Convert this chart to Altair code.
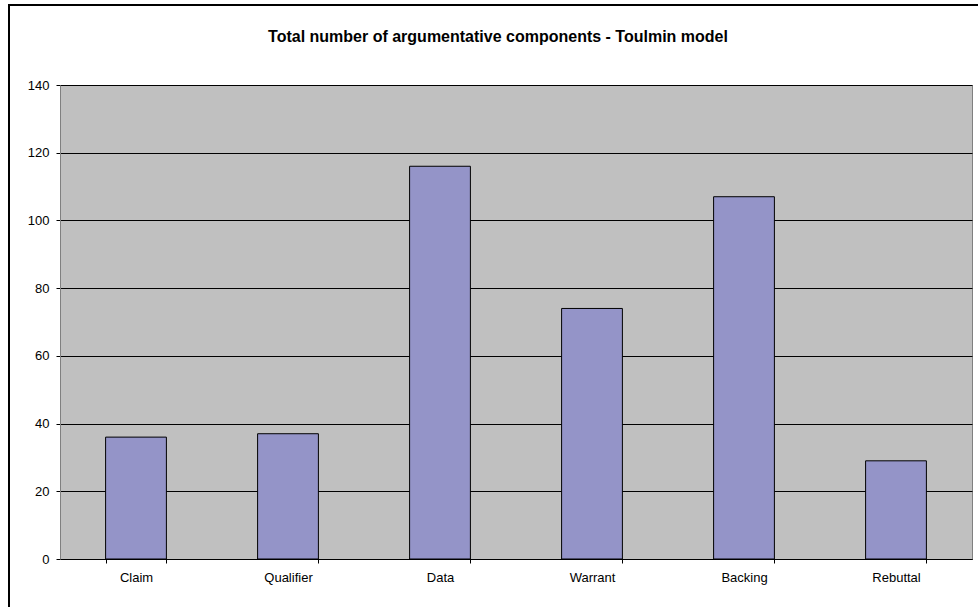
import altair as alt
import pandas as pd

# Counts of each Toulmin component
components = ["Claim", "Qualifier", "Data", "Warrant", "Backing", "Rebuttal"]
counts = [36, 37, 116, 74, 107, 29]
chart_title = "Total number of argumentative components - Toulmin model"

df = pd.DataFrame({"component": components, "count": counts})

FONT = "Liberation Sans"

bars = alt.Chart(df).mark_bar(
    color="#9494C8", stroke="black", strokeWidth=1
).encode(
    x=alt.X(
        "component:N",
        sort=components,
        title=None,
        scale=alt.Scale(paddingInner=0.6, paddingOuter=0.3),
        axis=alt.Axis(
            labelAngle=0, tickBand="extent", tickSize=4, tickColor="black",
            domainColor="black", labelPadding=8, labelFontSize=13,
            labelColor="black", labelFont=FONT, grid=False,
        ),
    ),
    y=alt.Y(
        "count:Q",
        title=None,
        scale=alt.Scale(domain=[0, 140], nice=False),
        axis=alt.Axis(
            values=[0, 20, 40, 60, 80, 100, 120, 140], tickSize=4,
            tickColor="black", domainColor="#808080", gridColor="black",
            gridWidth=1, labelPadding=7, labelFontSize=13,
            labelColor="black", labelFont=FONT,
        ),
    ),
)

# Chart heading, drawn as text above the plot area
heading = alt.Chart(pd.DataFrame({"t": [chart_title]})).mark_text(
    font=FONT, fontSize=16, fontWeight="bold", color="black",
    align="center", baseline="alphabetic",
).encode(
    text="t:N", x=alt.value(438), y=alt.value(-43),
)

# Frame around the whole chart
frame = alt.Chart(df).mark_rect(
    filled=False, stroke="black", strokeWidth=2
).encode(
    x=alt.value(-51), x2=alt.value(1000),
    y=alt.value(-80), y2=alt.value(600),
)

chart = alt.layer(bars, heading, frame).properties(
    width=912,
    height=474,
    autosize=alt.AutoSizeParams(type="none"),
    padding={"left": 60, "top": 85, "right": 6, "bottom": 48},
    background="white",
).configure_view(
    fill="#C0C0C0", stroke="#808080", strokeWidth=1
)

chart.save("out.html", embed_options={"renderer": "svg", "actions": False})
